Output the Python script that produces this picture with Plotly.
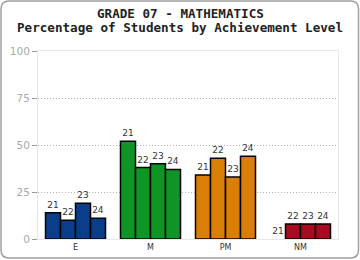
import plotly.graph_objects as go

categories = ["E", "M", "PM", "NM"]
years = ["21", "22", "23", "24"]
values = {
    "21": [14, 52, 34, 0],
    "22": [10, 38, 43, 8],
    "23": [19, 40, 33, 8],
    "24": [11, 37, 44, 8],
}
cat_colors = ["#0b3e8a", "#0f9426", "#d97e06", "#a80a22"]
title1 = "GRADE 07 - MATHEMATICS"
title2 = "Percentage of Students by Achievement Level"
yticks = [0, 25, 50, 75, 100]

W, H = 360, 260
L, R, T, B = 38, 22, 51, 21
pw, ph = W - L - R, H - T - B

def px(x):
    return (x - L) / pw

def py(y):
    return (H - B - y) / ph

fig = go.Figure()
for yr in years:
    vals = values[yr]
    fig.add_trace(go.Bar(
        x=categories, y=vals, name=yr,
        marker=dict(color=cat_colors,
                    line=dict(color="#000000", width=[0 if v == 0 else 1.5 for v in vals])),
        text=[yr] * len(vals), textposition="outside",
        textfont=dict(size=9, color="#333333", family="DejaVu Sans"),
        cliponaxis=False, constraintext="none", hoverinfo="skip",
    ))

# outer rounded frame
x0, x1, y0, y1, r = 1, 358.5, 1, 258, 8
path = (f"M {px(x0 + r)} {py(y0)} L {px(x1 - r)} {py(y0)} "
        f"Q {px(x1)} {py(y0)} {px(x1)} {py(y0 + r)} L {px(x1)} {py(y1 - r)} "
        f"Q {px(x1)} {py(y1)} {px(x1 - r)} {py(y1)} L {px(x0 + r)} {py(y1)} "
        f"Q {px(x0)} {py(y1)} {px(x0)} {py(y1 - r)} L {px(x0)} {py(y0 + r)} "
        f"Q {px(x0)} {py(y0)} {px(x0 + r)} {py(y0)} Z")
fig.add_shape(type="path", path=path, xref="paper", yref="paper",
              line=dict(color="#a0a0a0", width=1.5), layer="below")

fig.add_annotation(text=f"<b>{title1}</b>", x=px(180), y=py(13), xref="paper", yref="paper",
                   xanchor="center", yanchor="middle", showarrow=False,
                   font=dict(family="DejaVu Sans Mono", size=12.6, color="#222222"))
fig.add_annotation(text=f"<b>{title2}</b>", x=px(180), y=py(27), xref="paper", yref="paper",
                   xanchor="center", yanchor="middle", showarrow=False,
                   font=dict(family="DejaVu Sans Mono", size=12.6, color="#222222"))

fig.update_layout(
    width=W, height=H, margin=dict(l=L, r=R, t=T, b=B, pad=0, autoexpand=False),
    paper_bgcolor="white", plot_bgcolor="white",
    barmode="group", bargap=0.2, bargroupgap=0,
    showlegend=False,
    font=dict(family="DejaVu Sans"),
)
fig.update_xaxes(showgrid=False, showline=True, linecolor="#e8e8e8", linewidth=1, mirror=True,
                 ticks="", tickfont=dict(size=8, color="#333333"), fixedrange=True,
                 automargin=False)
fig.update_yaxes(range=[0, 100], tickvals=yticks, showgrid=True, gridcolor="#b0b0b0",
                 griddash="1px,2px", gridwidth=1, zeroline=False,
                 showline=True, linecolor="#e8e8e8", linewidth=1, mirror=True,
                 ticks="outside", ticklen=5, tickcolor="#999999",
                 tickfont=dict(size=10.5, color="#aaaaaa"), fixedrange=True,
                 automargin=False)

fig.write_html("out.html", config={"displayModeBar": False})
